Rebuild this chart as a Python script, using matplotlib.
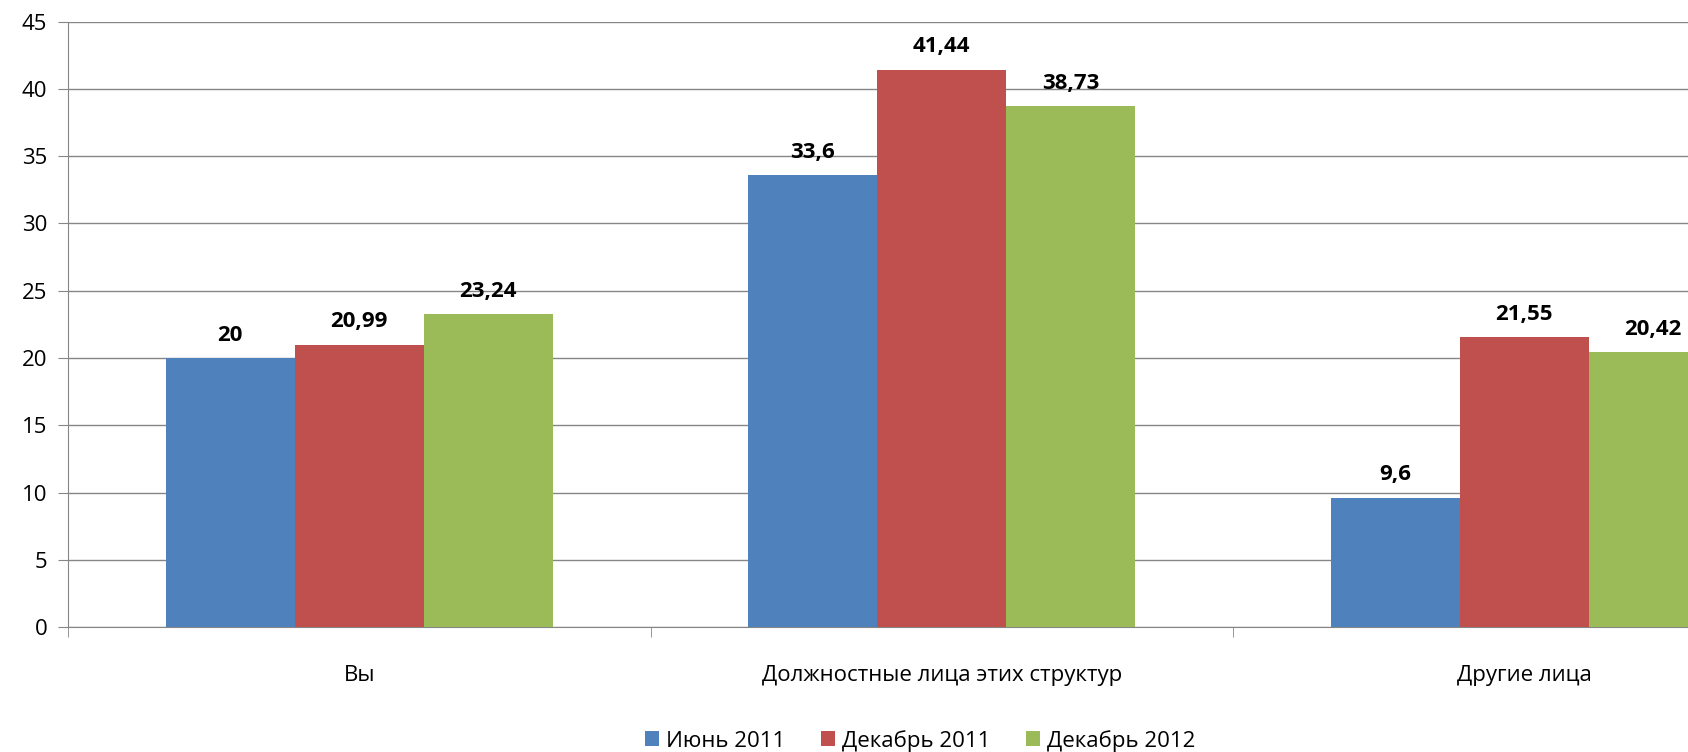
import matplotlib.pyplot as plt
import numpy as np

plt.rcParams['font.family'] = ['Open Sans', 'DejaVu Sans']

# данные
categories = ['Вы', 'Должностные лица этих структур', 'Другие лица']
series = ['Июнь 2011', 'Декабрь 2011', 'Декабрь 2012']
values = [
    [20, 33.6, 9.6],
    [20.99, 41.44, 21.55],
    [23.24, 38.73, 20.42],
]
labels = [
    ['20', '33,6', '9,6'],
    ['20,99', '41,44', '21,55'],
    ['23,24', '38,73', '20,42'],
]
colors = ['#4F81BD', '#C0504D', '#9BBB59']

fig = plt.figure(figsize=(16.88, 7.52), dpi=100)
ax = fig.add_axes([68 / 1688, 0.1662, 1 - 68 / 1688, 0.9711 - 0.1662])

x = np.arange(len(categories))
w = 0.2215
for i, s in enumerate(series):
    pos = x + (i - 1) * w
    bars = ax.bar(pos, values[i], width=w, color=colors[i], label=s, zorder=3)
    for b, txt in zip(bars, labels[i]):
        ax.annotate(txt, (b.get_x() + b.get_width() / 2, b.get_height()),
                    xytext=(0, 9), textcoords='offset points',
                    ha='center', va='bottom', fontsize=16, fontweight='bold')

ax.set_ylim(0, 45)
ax.set_yticks(range(0, 46, 5))
ax.set_xlim(-0.5, 2.281)
ax.grid(axis='y', color='#868686', linewidth=1, zorder=0)

ax.set_xticks(x)
ax.set_xticklabels(categories, fontsize=16)
ax.tick_params(axis='x', length=0, pad=27)
ax.set_xticks([-0.5, 0.5, 1.5], minor=True)
ax.tick_params(axis='x', which='minor', length=7, color='#868686')
ax.tick_params(axis='y', length=7, color='#868686', labelsize=16, pad=8)

for sp in ['top', 'right']:
    ax.spines[sp].set_visible(False)
ax.spines['left'].set_color('#868686')
ax.spines['bottom'].set_color('#868686')

fig.legend(loc='lower center', bbox_to_anchor=(920 / 1688, -0.026), ncol=3,
           frameon=False, fontsize=16, handlelength=0.65, handleheight=0.65,
           handletextpad=0.3, columnspacing=1.6)

plt.savefig('out.png', dpi=100)
plt.close()
